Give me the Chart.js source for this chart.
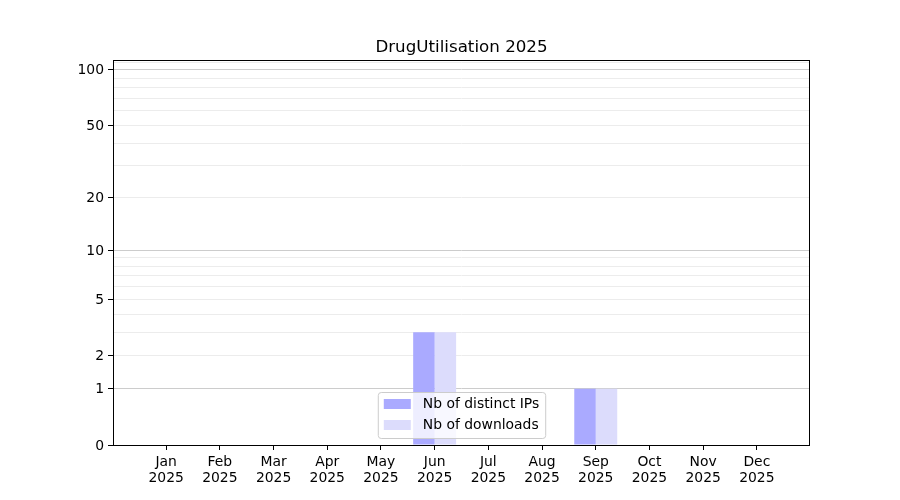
<!DOCTYPE html>
<html>
<head>
<meta charset="utf-8">
<script src="https://cdn.jsdelivr.net/npm/chart.js@4.4.1/dist/chart.umd.min.js"></script>
<style>
  html, body { margin: 0; padding: 0; background: #fff; }
  canvas { display: block; }
</style>
</head>
<body>
<canvas id="chart" width="900" height="500"></canvas>
<script>
// data
const MONTHS = ['Jan', 'Feb', 'Mar', 'Apr', 'May', 'Jun', 'Jul', 'Aug', 'Sep', 'Oct', 'Nov', 'Dec'];
const YEAR = '2025';
const DISTINCT_IPS = [0, 0, 0, 0, 0, 3, 0, 0, 1, 0, 0, 0];
const DOWNLOADS = [0, 0, 0, 0, 0, 3, 0, 0, 1, 0, 0, 0];
const Y_LABELS = [0, 1, 2, 5, 10, 20, 50, 100];
const Y_MAJOR = [1, 10, 100];
const Y_GRID = [0, 1, 2, 3, 4, 5, 6, 7, 8, 9, 10, 20, 30, 40, 50, 60, 70, 80, 90, 100, 110];

const FONT = 'DejaVu Sans';
const FS = 13.9;

// log10(1 + x) scale, like the one used by the original plot
class Log1pScale extends Chart.LinearScale {
    determineDataLimits() {
        this.min = this.options.min;
        this.max = this.options.max;
    }
    buildTicks() {
        return Y_GRID.filter(v => v >= this.min && v <= this.max).map(v => ({ value: v }));
    }
    configure() {
        super.configure();
        this._lo = Math.log10(1 + this.min);
        this._span = Math.log10(1 + this.max) - this._lo;
    }
    getPixelForValue(v) {
        return this.getPixelForDecimal((Math.log10(1 + v) - this._lo) / this._span);
    }
    getValueForPixel(p) {
        return Math.pow(10, this._lo + this.getDecimalForPixel(p) * this._span) - 1;
    }
}
Log1pScale.id = 'log1p';
Log1pScale.defaults = Chart.LinearScale.defaults;
Chart.register(Log1pScale);

Chart.defaults.font.family = FONT;
Chart.defaults.font.size = FS;
Chart.defaults.color = '#000';

const frameAndLegend = {
    id: 'frameAndLegend',
    afterDraw(chart) {
        const { ctx, chartArea: a } = chart;
        ctx.save();

        // title
        ctx.fillStyle = '#000';
        ctx.font = `16.7px "${FONT}"`;
        ctx.textAlign = 'center';
        ctx.textBaseline = 'alphabetic';
        ctx.fillText('DrugUtilisation 2025', (a.left + a.right) / 2, 52);

        // axes frame
        ctx.strokeStyle = '#000';
        ctx.lineWidth = 1;
        ctx.strokeRect(a.left + 0.5, a.top + 0.5, a.right - a.left - 1, a.bottom - a.top);

        // legend, lower center
        ctx.font = `${FS}px "${FONT}"`;
        const sets = chart.data.datasets;
        const textW = Math.max(...sets.map(d => ctx.measureText(d.label).width));
        const w = 6 + 27 + 12 + textW + 6;
        const h = 46;
        const x0 = (a.left + a.right) / 2 - w / 2;
        const y0 = a.bottom - 7 - h;
        ctx.beginPath();
        ctx.roundRect(x0 + 0.5, y0 + 0.5, w, h, 3);
        ctx.fillStyle = 'rgba(255,255,255,0.8)';
        ctx.fill();
        ctx.strokeStyle = '#cccccc';
        ctx.stroke();
        sets.forEach((d, i) => {
            const cy = y0 + 12 + i * 21;
            ctx.fillStyle = d.backgroundColor;
            ctx.fillRect(x0 + 6, cy - 5, 27, 10);
            ctx.fillStyle = '#000';
            ctx.textAlign = 'left';
            ctx.textBaseline = 'middle';
            ctx.fillText(d.label, x0 + 45, cy);
        });
        ctx.restore();
    }
};

new Chart(document.getElementById('chart'), {
    type: 'bar',
    data: {
        datasets: [
            {
                label: 'Nb of distinct IPs',
                data: DISTINCT_IPS.map((v, i) => ({ x: i, y: v })),
                backgroundColor: '#aaaaff',
                categoryPercentage: 0.8,
                barPercentage: 1.0,
            },
            {
                label: 'Nb of downloads',
                data: DOWNLOADS.map((v, i) => ({ x: i, y: v })),
                backgroundColor: '#dcdcfc',
                categoryPercentage: 0.8,
                barPercentage: 1.0,
            },
        ],
    },
    options: {
        responsive: false,
        animation: false,
        devicePixelRatio: 1,
        layout: { padding: { left: 0, top: 60, right: 90, bottom: 0 } },
        plugins: {
            legend: { display: false },
            title: { display: false },
            tooltip: { enabled: false },
        },
        scales: {
            x: {
                type: 'linear',
                min: -0.99,
                max: 11.99,
                offset: false,
                afterBuildTicks: s => { s.ticks = MONTHS.map((m, i) => ({ value: i })); },
                afterFit: s => { s.height = 55; },
                border: { display: false },
                grid: { offset: false, drawOnChartArea: false, tickLength: 5, tickColor: '#000' },
                ticks: {
                    autoSkip: false,
                    maxRotation: 0,
                    padding: 4,
                    font: { size: FS, lineHeight: 1.17 },
                    callback: v => [MONTHS[v], YEAR],
                },
            },
            y: {
                type: 'log1p',
                min: 0,
                max: 113,
                afterFit: s => { s.width = 113; },
                border: { display: false },
                grid: {
                    tickLength: 5,
                    color: c => c.tick.value === 0 ? 'rgba(0,0,0,0)' : (Y_MAJOR.includes(c.tick.value) ? '#cccccc' : '#ececec'),
                    tickColor: c => Y_LABELS.includes(c.tick.value) ? '#000' : 'rgba(0,0,0,0)',
                },
                ticks: {
                    autoSkip: false,
                    padding: 4,
                    labelOffset: 1,
                    callback: v => Y_LABELS.includes(v) ? String(v) : '',
                },
            },
        },
    },
    plugins: [frameAndLegend],
});
</script>
</body>
</html>
